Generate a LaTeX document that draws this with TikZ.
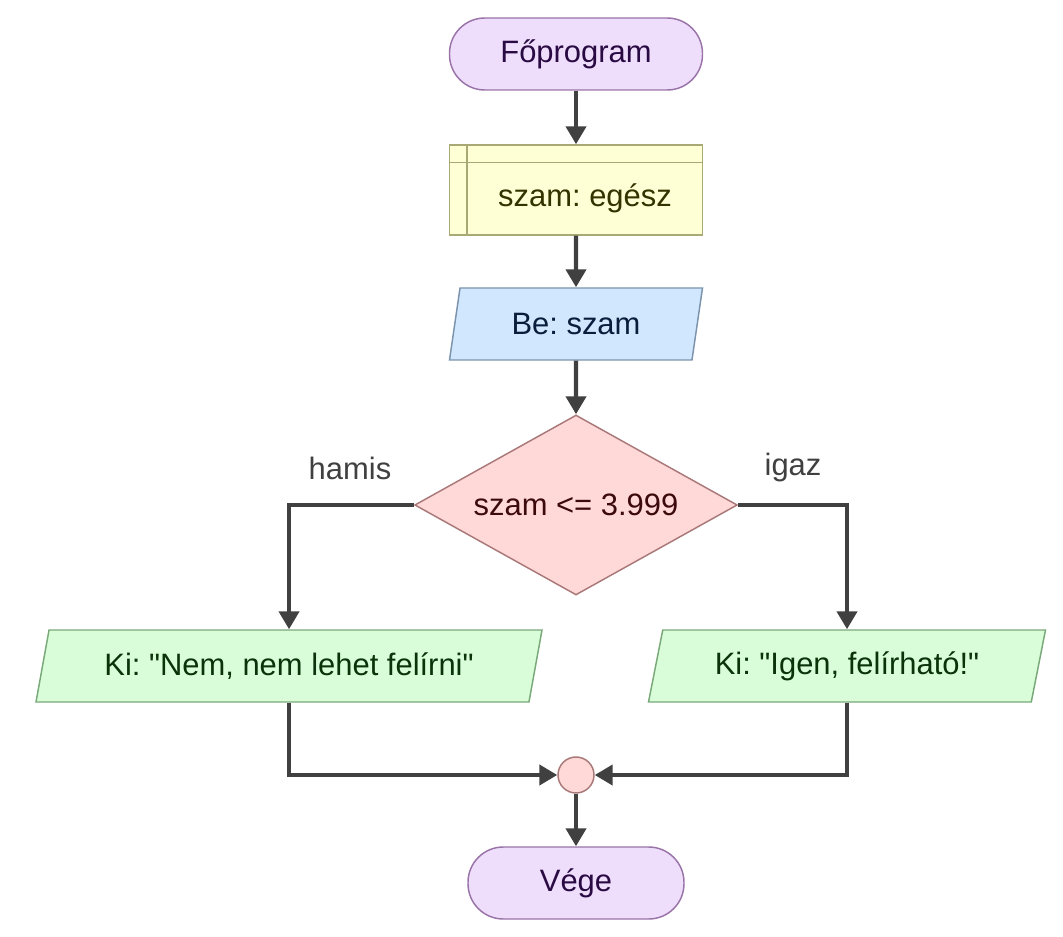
\documentclass[tikz,border=0pt]{standalone}
\usepackage{fontspec}
\setmainfont{Liberation Sans}[Ligatures=TeXOff]
\frenchspacing
\usetikzlibrary{shapes.geometric}
\usetikzlibrary{arrows.meta}

\definecolor{lila}{HTML}{EEDEFC}
\definecolor{lilavonal}{HTML}{9A74A8}
\definecolor{lilaszoveg}{HTML}{2A0A42}
\definecolor{sarga}{HTML}{FFFFD5}
\definecolor{sargavonal}{HTML}{A9A975}
\definecolor{sargaszoveg}{HTML}{333300}
\definecolor{kek}{HTML}{D1E7FE}
\definecolor{kekvonal}{HTML}{7B93AC}
\definecolor{kekszoveg}{HTML}{0A1E3C}
\definecolor{piros}{HTML}{FFD8D8}
\definecolor{pirosvonal}{HTML}{A97979}
\definecolor{pirosszoveg}{HTML}{3C0A0A}
\definecolor{zold}{HTML}{D8FDD8}
\definecolor{zoldvonal}{HTML}{79A979}
\definecolor{zoldszoveg}{HTML}{0A330A}
\definecolor{nyilszin}{HTML}{404040}

\begin{document}
\begin{tikzpicture}[x=0.75pt,y=-0.75pt,
  every node/.style={font=\fontsize{23.2}{28}\selectfont},
  term/.style={draw=lilavonal,fill=lila,text=lilaszoveg,line width=1.1pt,
    rounded corners=26.5pt,minimum height=54pt,inner sep=0pt},
  dekl/.style={draw=sargavonal,fill=sarga,line width=1.1pt,
    minimum width=189.75pt,minimum height=67.5pt,inner sep=0pt},
  io/.style={trapezium,trapezium left angle=64,trapezium right angle=116,
    trapezium stretches body,line width=1.1pt,minimum height=54pt,inner sep=0pt},
  dontes/.style={diamond,draw=pirosvonal,fill=piros,text=pirosszoveg,line width=1.1pt,
    shape aspect=1.8,minimum width=242pt,minimum height=135pt,inner sep=0pt},
  nyil/.style={draw=nyilszin,line width=3.2pt,-{Triangle[length=13.5pt,width=15pt]}}]

\useasboundingbox (0,0) rectangle (1063,937);

\node[term,minimum width=189.75pt] (fo) at (576,54) {Főprogram};
\node[dekl] (decl) at (576,190) {};
\node[text=sargaszoveg] (decltext) at (585,198) {szam: egész};
\draw[sargavonal,line width=1.1pt] ([xshift=13.5pt]decl.north west) -- ([xshift=13.5pt]decl.south west);
\draw[sargavonal,line width=1.1pt] ([yshift=-13.5pt]decl.north west) -- ([yshift=-13.5pt]decl.north east);
\node[io,draw=kekvonal,fill=kek,text=kekszoveg,minimum width=189.75pt] (be) at (576,324) {Be: szam};
\node[dontes] (felt) at (576,505) {szam <= 3.999};
\node[text=nyilszin] (hamis) at (350,468) {hamis};
\node[text=nyilszin] (igaz) at (793,468) {igaz};
\node[io,draw=zoldvonal,fill=zold,text=zoldszoveg,minimum width=379.5pt] (nem) at (289,666) {Ki: "Nem, nem lehet felírni"};
\node[io,draw=zoldvonal,fill=zold,text=zoldszoveg,minimum width=297.75pt] (igen) at (847,666) {Ki: "Igen, felírható!"};
\node[circle,draw=pirosvonal,fill=piros,line width=1.1pt,minimum size=27pt,inner sep=0pt] (gyujt) at (576,775) {};
\node[term,minimum width=162pt] (vege) at (576,883) {Vége};

\draw[nyil] (fo) -- (decl);
\draw[nyil] (decl) -- (be);
\draw[nyil] (be) -- (felt);
\draw[nyil] (felt.west) -| (nem.north);
\draw[nyil] (felt.east) -| (igen.north);
\draw[nyil] (nem.south) |- (gyujt.west);
\draw[nyil] (igen.south) |- (gyujt.east);
\draw[nyil] (gyujt) -- (vege);

\end{tikzpicture}
\end{document}
